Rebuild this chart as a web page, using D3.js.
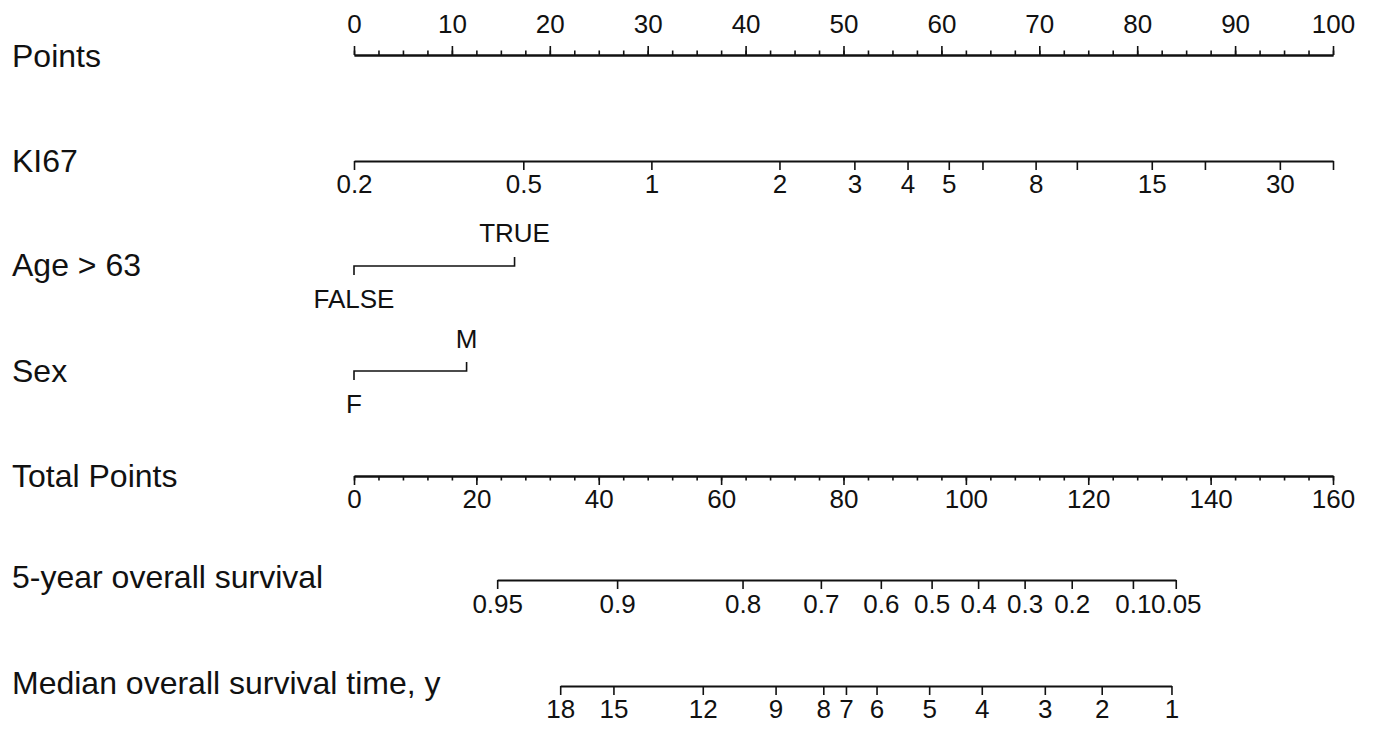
<!DOCTYPE html>
<html>
<head>
<meta charset="utf-8">
<script src="https://cdn.jsdelivr.net/npm/d3@7"></script>
<style>
  body { margin: 0; background: #fff; }
  svg text { font-family: "Liberation Sans", Arial, sans-serif; fill: #111; }
</style>
</head>
<body>
<script>
// row labels
const rowLabels = ["Points", "KI67", "Age > 63", "Sex", "Total Points",
  "5-year overall survival", "Median overall survival time, y"];

// points axis
const pointsMajor = d3.range(0, 101, 10);
const pointsMinor = d3.range(0, 100.1, 2.5);

// KI67 (log scale, 0.2 -> 0 pts, 40 -> 100 pts)
const ki67Domain = [0.2, 40];
const ki67Ticks = [0.2, 0.5, 1, 2, 3, 4, 5, 6, 8, 10, 15, 20, 30, 40];
const ki67Labels = [0.2, 0.5, 1, 2, 3, 4, 5, 8, 15, 30];

// categorical predictors: [level, points]
const ageLevels = ["FALSE", "TRUE"];
const agePoints = [0, 16.4];
const sexLevels = ["F", "M"];
const sexPoints = [0, 11.5];

// total points axis
const totalMajor = d3.range(0, 161, 20);
const totalMinor = d3.range(0, 160.1, 4);

// 5-year survival: label and total points
const survLabels = ["0.95", "0.9", "0.8", "0.7", "0.6", "0.5", "0.4", "0.3", "0.2", "0.1", "0.05"];
const survPoints = [23.4, 43.0, 63.5, 76.3, 86.1, 94.4, 102.0, 109.6, 117.3, 127.3, 134.3];

// median survival time: label and total points
const medLabels = ["18", "15", "12", "9", "8", "7", "6", "5", "4", "3", "2", "1"];
const medPoints = [33.7, 42.4, 57.0, 68.9, 76.7, 80.4, 85.4, 94.0, 102.6, 112.9, 122.2, 133.6];

const width = 1374;
const height = 735;
const x0 = 354, x1 = 1333;
const tickFont = 26;

const svg = d3.select("body").append("svg")
  .attr("width", width)
  .attr("height", height);

const xPts = d3.scaleLinear().domain([0, 100]).range([x0, x1]);
const xTot = d3.scaleLinear().domain([0, 160]).range([x0, x1]);
const xKi = d3.scaleLog().domain(ki67Domain).range([xPts(0), xPts(100)]);

// row labels
const labelY = [67, 172, 276, 382, 487, 588, 694];
svg.selectAll("text.row")
  .data(rowLabels)
  .enter()
  .append("text")
  .attr("class", "row")
  .attr("x", 12)
  .attr("y", (d, i) => labelY[i])
  .attr("font-size", 32)
  .text(d => d);

function styleAxis(g) {
  g.select(".domain").attr("stroke", "#111").attr("stroke-width", 2);
  g.selectAll(".tick line").attr("stroke", "#111").attr("stroke-width", 1.6);
  g.selectAll(".tick text")
    .attr("fill", "#111")
    .attr("font-size", tickFont)
    .attr("font-family", "Liberation Sans, Arial, sans-serif");
}

// Points
svg.append("g")
  .attr("transform", "translate(0,55)")
  .call(d3.axisTop(xPts).tickValues(pointsMinor).tickSize(4.5).tickSizeOuter(0).tickFormat(""))
  .call(styleAxis);
svg.append("g")
  .attr("transform", "translate(0,55)")
  .call(d3.axisTop(xPts).tickValues(pointsMajor).tickSize(9).tickSizeOuter(0).tickPadding(13))
  .call(styleAxis);

// KI67
svg.append("g")
  .attr("transform", "translate(0,161)")
  .call(d3.axisBottom(xKi).tickValues(ki67Ticks).tickSize(9).tickSizeOuter(0).tickPadding(5)
    .tickFormat(d => ki67Labels.includes(d) ? String(d) : ""))
  .call(styleAxis);

// categorical brackets
function bracket(yLine, levels, pts, upY, downY) {
  const g = svg.append("g");
  const xa = xPts(pts[0]), xb = xPts(pts[1]);
  g.append("path")
    .attr("d", `M${xa},${yLine + 9}V${yLine}H${xb}V${yLine - 9}`)
    .attr("fill", "none")
    .attr("stroke", "#111")
    .attr("stroke-width", 1.6);
  g.append("text")
    .attr("x", xa).attr("y", downY)
    .attr("text-anchor", "middle")
    .attr("font-size", tickFont)
    .text(levels[0]);
  g.append("text")
    .attr("x", xb).attr("y", upY)
    .attr("text-anchor", "middle")
    .attr("font-size", tickFont)
    .text(levels[1]);
}
bracket(266, ageLevels, agePoints, 242, 308);
bracket(371, sexLevels, sexPoints, 348, 413);

// Total Points
svg.append("g")
  .attr("transform", "translate(0,476)")
  .call(d3.axisBottom(xTot).tickValues(totalMinor).tickSize(4.5).tickSizeOuter(0).tickFormat(""))
  .call(styleAxis);
svg.append("g")
  .attr("transform", "translate(0,476)")
  .call(d3.axisBottom(xTot).tickValues(totalMajor).tickSize(9).tickSizeOuter(0).tickPadding(5))
  .call(styleAxis);

// outcome axes, mapped through total points
function outcomeAxis(y, pts, labels, pad) {
  const ext = d3.extent(pts);
  const s = d3.scaleLinear().domain(ext).range(ext.map(xTot));
  svg.append("g")
    .attr("transform", `translate(0,${y})`)
    .call(d3.axisBottom(s).tickValues(pts).tickSize(9).tickSizeOuter(0).tickPadding(pad)
      .tickFormat((d, i) => labels[i]))
    .call(styleAxis);
}
outcomeAxis(580, survPoints, survLabels, 6);
outcomeAxis(686, medPoints, medLabels, 5);
</script>
</body>
</html>
